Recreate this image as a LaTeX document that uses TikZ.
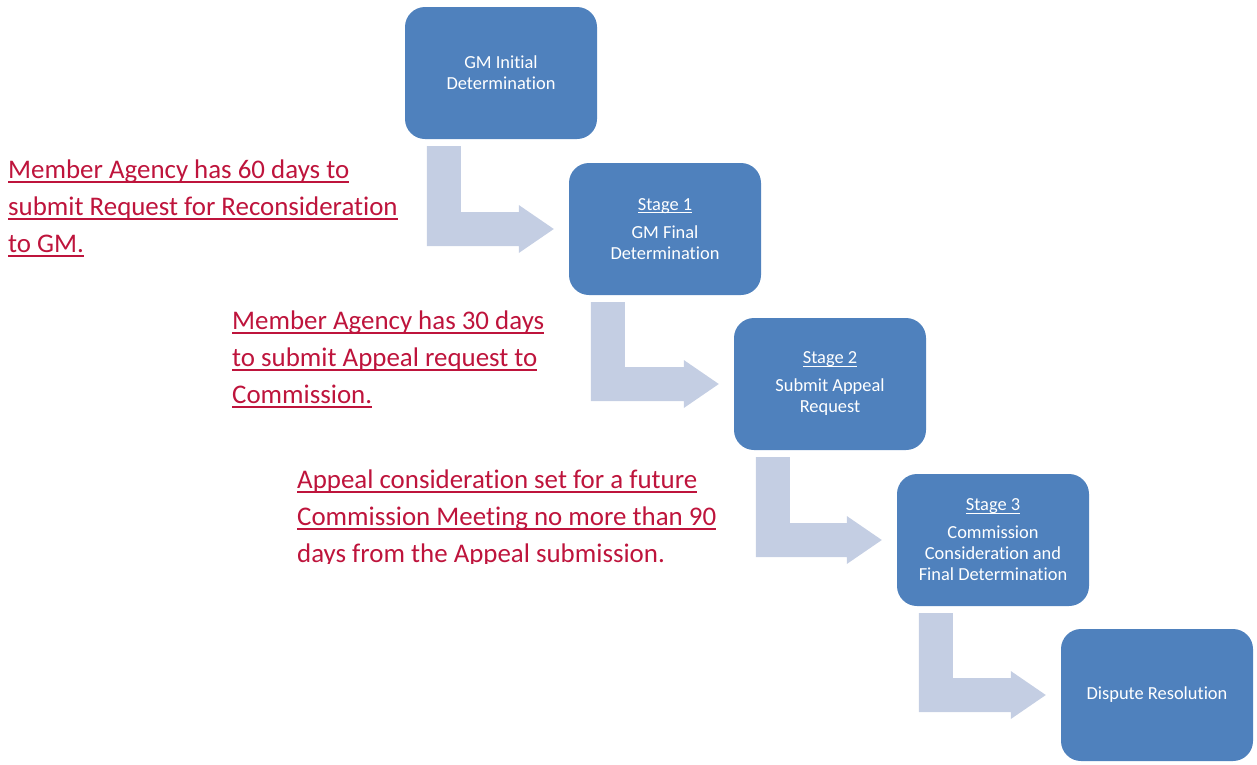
\documentclass[tikz,border=0pt]{standalone}
\usepackage{fontspec}
\setmainfont{Carlito}[Ligatures=NoCommon]
\usetikzlibrary{calc}

\definecolor{boxblue}{RGB}{79,129,189}
\definecolor{flowblue}{RGB}{196,206,227}
\definecolor{notered}{RGB}{190,20,60}

\newcommand{\ulined}[1]{\setbox0\hbox{#1}\rlap{\rule[-4.4pt]{\wd0}{2pt}}\box0}
\newcommand{\stagehead}[1]{\setbox0\hbox{#1}\rlap{\rule[-2.8pt]{\wd0}{1pt}}\box0}

\tikzset{
  stagebox/.style={fill=boxblue, rounded corners=20pt, minimum width=192pt,
    minimum height=132pt, text=white, align=center, inner sep=0pt,
    font=\fontsize{18.4}{21}\selectfont},
  flow/.style={fill=flowblue},
  note/.style={text=notered, align=left, anchor=north west, inner sep=0pt,
    font=\fontsize{26.9}{37}\selectfont}
}

\begin{document}
\begin{tikzpicture}[x=1pt,y=-1pt]
    \useasboundingbox (0,0) rectangle (1257,764);

    % the five steps
    \node[stagebox] (init) at (501,73) {GM Initial\\Determination};
    \node[stagebox] (st1) at (665,229) {\stagehead{Stage 1}\\[7pt]GM Final\\Determination};
    \node[stagebox] (st2) at (830,384) {\stagehead{Stage 2}\\[7pt]Submit Appeal\\Request};
    \node[stagebox] (st3) at (993,540) {\stagehead{Stage 3}\\[7pt]Commission\\Consideration and\\Final Determination};
    \node[stagebox] (disp) at (1157,695) {Dispute Resolution};

    % bent arrows between them
    \foreach \a/\b in {init/st1, st1/st2, st2/st3, st3/disp}
      \fill[flow] let \p1=(\a.south west), \p2=(\b.west) in
        (\x1+22pt,\y1-7pt) -- (\x1+56pt,\y1-7pt) -- (\x1+56pt,\y2+17pt)
        -- (\x2-50pt,\y2+17pt) -- (\x2-50pt,\y2+24pt) -- (\x2-15pt,\y2)
        -- (\x2-50pt,\y2-24pt) -- (\x2-50pt,\y2-17pt) -- (\x1+22pt,\y2-17pt) -- cycle;

    % notes
    \node[note] (recon) at (8,160) {\ulined{Member Agency has 60 days to}\\
      \ulined{submit Request for Reconsideration}\\\ulined{to GM.}};
    \node[note] (appeal) at (232,311) {\ulined{Member Agency has 30 days}\\
      \ulined{to submit Appeal request to}\\\ulined{Commission.}};
    \begin{scope}
      \clip (280,440) rectangle (740,563);
      \node[note] (meet) at (297,470) {\ulined{Appeal consideration set for a future}\\
        \ulined{Commission Meeting no more than 90}\\\ulined{days from the Appeal submission.}};
    \end{scope}
\end{tikzpicture}
\end{document}
